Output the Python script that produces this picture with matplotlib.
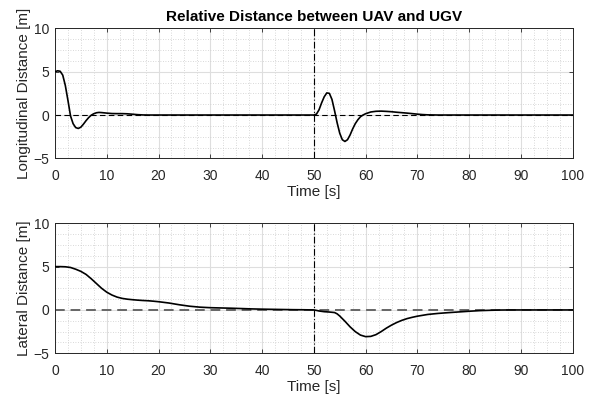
import matplotlib
matplotlib.use("Agg")
import matplotlib.pyplot as plt
from matplotlib.ticker import MultipleLocator

plt.rcParams['font.family'] = ['Liberation Sans', 'DejaVu Sans']

# Longitudinal distance (top)
t_lon = [0, 0.5, 1.0, 1.5, 2.0, 2.5, 3.0, 3.5, 4.0, 4.5, 5.0, 5.5, 6.0, 6.5, 7.0, 7.5, 8.0, 8.5,
         9.0, 10, 11, 12, 13, 14, 15, 16, 17, 18, 20, 30, 40, 50,
         50.5, 51, 51.5, 52, 52.5, 53, 53.5, 54, 54.5, 55, 55.5, 56, 56.5, 57, 57.5, 58, 58.5,
         59, 59.5, 60, 61, 62, 63, 64, 65, 66, 67, 68, 69, 70, 71, 72, 74, 80, 100]
lon = [5.0, 5.1, 5.05, 4.6, 3.4, 1.7, -0.1, -1.0, -1.45, -1.55, -1.4, -1.05, -0.65, -0.3, -0.02,
       0.15, 0.26, 0.3, 0.28, 0.22, 0.17, 0.16, 0.16, 0.14, 0.09, 0.04, 0.01, 0.0, 0.0, 0.0, 0.0, 0.0,
       0.1, 0.6, 1.4, 2.1, 2.55, 2.5, 1.8, 0.5, -0.9, -2.1, -2.85, -3.05, -2.85, -2.3, -1.6, -1.0, -0.55,
       -0.2, 0.0, 0.15, 0.35, 0.43, 0.45, 0.42, 0.38, 0.32, 0.27, 0.22, 0.16, 0.1, 0.05, 0.02, 0.0, 0.0, 0.0]

# Lateral distance (bottom)
t_lat = [0, 1, 2, 3, 4, 5, 6, 7, 8, 9, 10, 11, 12, 13, 14, 15, 16, 17, 18, 19, 20, 22, 24, 26, 28,
         30, 32, 34, 36, 38, 40, 42, 44, 46, 48, 50, 50.5, 51, 52, 53, 54, 54.5, 55, 56, 57, 58, 59,
         60, 61, 62, 63, 64, 65, 66, 67, 68, 69, 70, 72, 74, 76, 78, 80, 82, 84, 86, 88, 100]
lat = [5.0, 5.0, 4.98, 4.9, 4.7, 4.45, 4.1, 3.6, 3.05, 2.5, 2.05, 1.72, 1.48, 1.33, 1.24, 1.18, 1.13,
       1.09, 1.06, 1.01, 0.95, 0.8, 0.6, 0.43, 0.32, 0.26, 0.23, 0.2, 0.16, 0.12, 0.09, 0.07, 0.05,
       0.03, 0.02, 0.0, -0.05, -0.12, -0.2, -0.24, -0.3, -0.45, -0.7, -1.3, -1.95, -2.5, -2.9,
       -3.08, -3.05, -2.85, -2.5, -2.1, -1.75, -1.45, -1.2, -1.0, -0.85, -0.72, -0.52, -0.4, -0.31,
       -0.23, -0.15, -0.08, -0.04, -0.01, 0.0, 0.0]

x_ticks = [0, 10, 20, 30, 40, 50, 60, 70, 80, 90, 100]
y_ticks = [-5, 0, 5, 10]
event_time = 50
title = "Relative Distance between UAV and UGV"
xlabel = "Time [s]"
ylabels = ["Longitudinal Distance [m]", "Lateral Distance [m]"]

fig = plt.figure(figsize=(5.97, 4.05), dpi=100)
ax1 = fig.add_axes([0.0921, 0.609, 0.8672, 0.321])
ax2 = fig.add_axes([0.0921, 0.1277, 0.8672, 0.321])

axc = (0.15, 0.15, 0.15)
for ax, t, y, yl, dcol, dlw in [(ax1, t_lon, lon, ylabels[0], 'black', 0.8),
                                (ax2, t_lat, lat, ylabels[1], (0.4, 0.4, 0.4), 1.4)]:
    ax.set_xlim(0, 100)
    ax.set_ylim(-5, 10)
    ax.set_xticks(x_ticks)
    ax.set_yticks(y_ticks)
    ax.xaxis.set_minor_locator(MultipleLocator(2.5))
    ax.yaxis.set_minor_locator(MultipleLocator(1.25))
    ax.grid(True, which='major', color=(0.87, 0.87, 0.87), linewidth=0.8, linestyle='-')
    ax.grid(True, which='minor', color=(0.8, 0.8, 0.8), linewidth=0.6, linestyle=(0, (1, 2)))
    ax.set_axisbelow(True)
    ax.axhline(0, color=dcol, linewidth=dlw, linestyle=(0, (5, 3)), zorder=2)
    ax.axvline(event_time, color='black', linewidth=0.8, linestyle=(0, (6, 2, 1, 2)), zorder=2)
    ax.plot(t, y, color='black', linewidth=1.2, zorder=3)
    ax.tick_params(which='both', direction='in', top=True, right=True, colors=axc,
                   labelsize=10, labelcolor=axc)
    ax.tick_params(axis='x', which='major', pad=8)
    ax.tick_params(axis='y', which='major', pad=4)
    ax.tick_params(which='minor', length=0)
    ax.tick_params(which='major', length=3, width=0.6)
    for s in ax.spines.values():
        s.set_color(axc)
        s.set_linewidth(0.7)
    ax.set_xlabel(xlabel, fontsize=11, color=axc, labelpad=1)
    ax.set_ylabel(yl, fontsize=11, color=axc, labelpad=1.5)

ax1.set_title(title, fontsize=11, fontweight='bold', pad=5.5)

fig.savefig("out.png", dpi=100)
